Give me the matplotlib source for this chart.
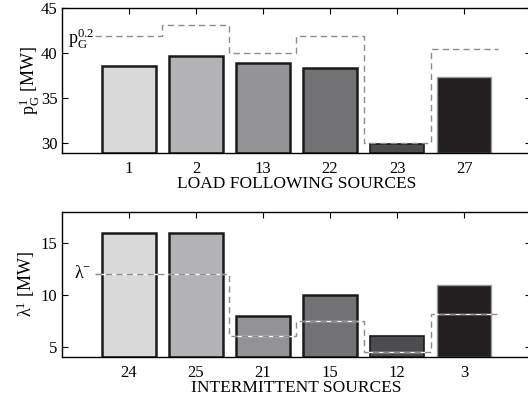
import matplotlib
matplotlib.use('Agg')
from matplotlib import pyplot as plt
import numpy as np

plt.rcParams.update({'font.size': 12, 'font.family': 'Liberation Serif',
                     'mathtext.fontset': 'custom', 'mathtext.rm': 'Liberation Serif',
                     'mathtext.it': 'Liberation Serif', 'mathtext.sf': 'Liberation Serif'})

# load following sources
lf_labels = ['1', '2', '13', '22', '23', '27']
lf_pg1 = [38.55, 39.7, 38.9, 38.4, 29.9, 37.3]
lf_pg02 = [41.9, 43.15, 40.05, 41.85, 30.0, 40.5]

# intermittent sources
in_labels = ['24', '25', '21', '15', '12', '3']
in_lam1 = [16.0, 16.0, 8.0, 10.0, 6.0, 11.0]
in_lammin = [12.0, 12.0, 6.0, 7.5, 4.5, 8.2]

greys = ['#d9d9d9', '#b3b3b5', '#939395', '#727275', '#4d4d4f', '#231f20']
edges = ['#1a1a1a'] * 5 + ['#9a9a9a']
lws = [1.8, 1.8, 1.8, 1.8, 1.2, 1.0]

fig = plt.figure(figsize=(5.28, 4.03), dpi=100)
ax1 = fig.add_axes([0.117, 0.620, 0.889, 0.360])
ax2 = fig.add_axes([0.117, 0.114, 0.889, 0.360])

x = np.arange(1, 7)
step_edges = np.arange(0.5, 7.0, 1.0)


def style(ax):
    ax.set_xlim(0, 7)
    ax.set_xticks(x)
    ax.tick_params(direction='in', top=True, right=True, length=4, width=0.8, labelsize=12)
    ax.tick_params(axis='x', pad=6)
    ax.tick_params(axis='y', pad=3)
    for s in ax.spines.values():
        s.set_linewidth(1.0)


for i in range(6):
    ax1.bar(x[i], lf_pg1[i] - 28.9, bottom=28.9, width=0.8, color=greys[i],
            edgecolor=edges[i], linewidth=lws[i], zorder=2)
ax1.stairs(lf_pg02, step_edges, baseline=None, color='#8c8c8c', linestyle=(0, (4.5, 3)),
           linewidth=1.0, zorder=3)
ax1.set_ylim(28.9, 45)
ax1.set_yticks([30, 35, 40, 45])
ax1.set_xticklabels(lf_labels)
ax1.set_ylabel(r'$\mathrm{p_G^1}$ [MW]', labelpad=-1, fontsize=13)
ax1.set_xlabel('LOAD FOLLOWING SOURCES', labelpad=-1, fontsize=12.5)
ax1.text(0.1, 41.6, r'$\mathrm{p_G^{0.2}}$', va='center', ha='left', fontsize=13)
style(ax1)

for i in range(6):
    ax2.bar(x[i], in_lam1[i] - 4, bottom=4, width=0.8, color=greys[i],
            edgecolor=edges[i], linewidth=lws[i], zorder=2)
ax2.stairs(in_lammin, step_edges, baseline=None, color='white', linewidth=1.0, zorder=3)
ax2.stairs(in_lammin, step_edges, baseline=None, color='#8c8c8c', linestyle=(0, (4.5, 3)),
           linewidth=1.0, zorder=4)
ax2.set_ylim(4, 18)
ax2.set_yticks([5, 10, 15])
ax2.set_xticklabels(in_labels)
ax2.set_ylabel(r'$\mathrm{\lambda^1}$ [MW]', labelpad=3, fontsize=13)
ax2.set_xlabel('INTERMITTENT SOURCES', labelpad=-1, fontsize=12.5)
ax2.text(0.18, 12.1, r'$\mathrm{\lambda^{-}}$', va='center', ha='left', fontsize=13)
style(ax2)

plt.savefig('out.png', dpi=100)
